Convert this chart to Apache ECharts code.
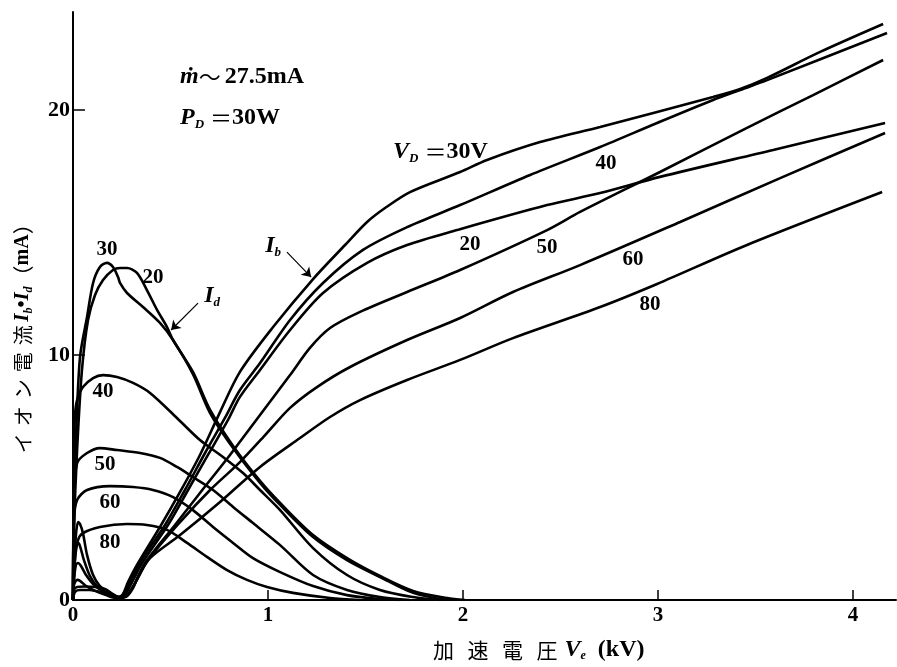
<!DOCTYPE html>
<html><head><meta charset="utf-8">
<script src="https://cdn.jsdelivr.net/npm/echarts@6/dist/echarts.min.js"></script>
<style>html,body{margin:0;padding:0;background:#fff}#c{width:897px;height:667px}</style>
</head><body><div id="c"></div>
<script>
// ---------- data (x: kV, y: mA) ----------
const vdLevels = ['20', '30', '40', '50', '60', '80'];
const xTickValues = [0, 1, 2, 3, 4];
const yTickValues = [0, 10, 20];

// beam current Ib
const ib30 = [[0,0],[0.005,0.41],[0.021,0.53],[0.062,0.55],[0.113,0.53],[0.164,0.45],[0.205,0.24],[0.231,0.12],[0.256,0.24],[0.282,0.73],[0.328,1.43],[0.446,2.98],[0.549,4.41],[0.651,5.92],[0.754,7.67],[0.856,9.31],[1.026,11.14],[1.231,13.10],[1.395,14.49],[1.508,15.43],[1.600,16.00],[1.728,16.65],[1.985,17.47],[2.123,17.96],[2.395,18.69],[2.703,19.31],[2.995,19.92],[3.282,20.53],[3.421,20.86],[3.559,21.31],[3.831,22.37],[4.154,23.51]];
const ib40 = [[0,0],[0.005,0.61],[0.021,0.82],[0.036,0.78],[0.067,0.57],[0.113,0.37],[0.169,0.20],[0.221,0.08],[0.251,0.16],[0.297,0.82],[0.344,1.55],[0.472,3.06],[0.574,4.49],[0.677,6.00],[0.779,7.43],[0.856,8.57],[0.959,9.67],[1.113,11.43],[1.282,12.94],[1.487,14.29],[1.713,15.22],[1.985,16.12],[2.344,17.35],[2.703,18.49],[2.995,19.47],[3.282,20.41],[3.421,20.82],[3.559,21.22],[4.174,23.14]];
const ib20 = [[0,0],[0.010,0.33],[0.036,0.41],[0.087,0.41],[0.138,0.33],[0.190,0.20],[0.236,0.08],[0.262,0.16],[0.303,0.73],[0.354,1.51],[0.487,3.06],[0.590,4.49],[0.692,5.92],[0.795,7.35],[0.856,8.29],[0.959,9.39],[1.113,11.02],[1.282,12.53],[1.508,13.76],[1.713,14.49],[1.969,15.10],[2.431,16.12],[2.703,16.61],[3.010,17.27],[3.590,18.37],[4.164,19.47]];
const ib50 = [[0,0],[0.005,0.82],[0.015,1.43],[0.026,1.51],[0.041,1.39],[0.067,1.02],[0.108,0.61],[0.159,0.33],[0.215,0.12],[0.251,0.08],[0.282,0.24],[0.318,0.69],[0.369,1.51],[0.523,3.06],[0.651,4.37],[0.805,5.92],[0.959,7.55],[1.113,9.18],[1.215,10.29],[1.318,11.10],[1.472,11.76],[1.713,12.57],[1.985,13.47],[2.431,15.10],[2.600,15.84],[3.010,17.47],[3.456,19.27],[3.795,20.61],[4.154,22.04]];
const ib60 = [[0,0],[0.005,1.02],[0.015,2.12],[0.026,2.33],[0.036,2.20],[0.056,1.63],[0.087,0.98],[0.128,0.53],[0.179,0.29],[0.231,0.12],[0.267,0.12],[0.297,0.41],[0.328,0.82],[0.385,1.63],[0.549,3.18],[0.703,4.49],[0.856,5.63],[0.985,6.73],[1.113,7.84],[1.251,8.69],[1.421,9.51],[1.713,10.61],[1.985,11.51],[2.256,12.57],[2.600,13.67],[3.113,15.43],[3.626,17.22],[4.164,19.06]];
const ib80 = [[0,0],[0.005,1.14],[0.015,2.65],[0.026,3.18],[0.036,3.10],[0.051,2.73],[0.072,1.84],[0.103,1.02],[0.138,0.57],[0.190,0.29],[0.241,0.12],[0.277,0.16],[0.308,0.49],[0.338,1.02],[0.395,1.71],[0.549,2.65],[0.754,4.00],[0.959,5.43],[1.164,6.61],[1.318,7.47],[1.472,8.16],[1.713,8.98],[1.985,9.80],[2.256,10.69],[2.703,11.96],[2.995,12.90],[3.456,14.49],[4.149,16.65]];

// discharge current Id
const id30 = [[0,0],[0.005,3.27],[0.015,6.53],[0.036,9.92],[0.072,11.55],[0.103,12.94],[0.138,13.59],[0.174,13.76],[0.205,13.59],[0.231,13.18],[0.241,12.94],[0.277,12.53],[0.359,11.96],[0.446,11.31],[0.513,10.61],[0.615,9.22],[0.703,7.63],[0.821,6.20],[0.959,4.78],[1.062,3.88],[1.231,2.57],[1.405,1.63],[1.574,0.94],[1.744,0.29],[1.918,0]];
const id20 = [[0,0],[0.005,2.86],[0.021,6.12],[0.046,9.39],[0.077,11.43],[0.113,12.45],[0.154,13.06],[0.205,13.47],[0.241,13.55],[0.277,13.55],[0.328,13.35],[0.379,12.65],[0.431,11.84],[0.482,11.14],[0.513,10.61],[0.615,9.31],[0.703,7.76],[0.821,6.29],[0.959,4.86],[1.062,3.96],[1.231,2.65],[1.405,1.71],[1.574,0.98],[1.744,0.37],[1.918,0.08],[2.010,0]];
const id40 = [[0,0],[0.003,4.08],[0.005,6.53],[0.010,7.55],[0.021,8.16],[0.051,8.69],[0.103,9.06],[0.154,9.18],[0.226,9.10],[0.308,8.86],[0.395,8.45],[0.533,7.43],[0.651,6.53],[0.769,5.84],[0.872,5.18],[0.959,4.49],[1.062,3.67],[1.231,2.12],[1.405,1.02],[1.574,0.41],[1.744,0.12],[1.882,0]];
const id50 = [[0,0],[0.005,4.08],[0.021,5.59],[0.072,6.00],[0.138,6.20],[0.226,6.12],[0.344,6.00],[0.446,5.80],[0.533,5.43],[0.615,5.02],[0.718,4.49],[0.821,3.80],[0.923,3.14],[1.062,2.24],[1.231,1.02],[1.405,0.41],[1.574,0.12],[1.728,0]];
const id60 = [[0,0],[0.005,3.27],[0.021,4.08],[0.072,4.49],[0.190,4.65],[0.308,4.61],[0.410,4.49],[0.513,4.20],[0.615,3.67],[0.718,2.98],[0.821,2.33],[0.923,1.71],[1.062,1.14],[1.231,0.57],[1.405,0.20],[1.574,0.04],[1.677,0]];
const id80 = [[0,0],[0.010,1.63],[0.026,2.45],[0.051,2.73],[0.138,2.98],[0.277,3.10],[0.379,3.06],[0.482,2.86],[0.585,2.33],[0.687,1.76],[0.790,1.22],[0.892,0.82],[0.995,0.53],[1.128,0.29],[1.318,0.08],[1.472,0]];

// ---------- annotation placement (data coords) ----------
const curveNumLabels = [
  ['30', 0.174, 14.29], ['20', 0.410, 13.18], ['40', 0.154, 8.49], ['50', 0.164, 5.51],
  ['60', 0.190, 3.96], ['80', 0.190, 2.33],
  ['40', 2.733, 17.80], ['20', 2.036, 14.49], ['50', 2.431, 14.37], ['60', 2.872, 13.88], ['80', 2.959, 12.04]
];
const richNotes = [
  {text: '{i|ṁ}{t|～}{n|27.5mA}', at: [0.549, 21.35], align: 'left'},
  {text: '{i|P}{s|D}{n| }{eq|＝}{n|30W}', at: [0.549, 19.67], align: 'left'},
  {text: '{i|V}{s|D}{n| }{eq|＝}{n|30V}', at: [1.641, 18.29], align: 'left'},
  {text: '{i|I}{s|d}', at: [0.713, 12.41], align: 'center'},
  {text: '{i|I}{s|b}', at: [1.026, 14.45], align: 'center'}
];
const arrows = [
  [[0.641, 12.12], [0.503, 11.02]],
  [[1.097, 14.20], [1.221, 13.18]]
];

// ---------- chart ----------
const SERIF = '"Liberation Serif", "DejaVu Serif", serif';
const CJK = '"Noto Sans CJK JP", sans-serif';
const chart = echarts.init(document.getElementById('c'), null, {renderer: 'canvas'});

const ibSets = {'20': ib20, '30': ib30, '40': ib40, '50': ib50, '60': ib60, '80': ib80};
const idSets = {'20': id20, '30': id30, '40': id40, '50': id50, '60': id60, '80': id80};
const series = [];
vdLevels.forEach(v => {
  series.push({name: 'Ib ' + v, type: 'line', data: ibSets[v]});
  series.push({name: 'Id ' + v, type: 'line', data: idSets[v]});
});
series.forEach(s => Object.assign(s, {
  showSymbol: false, symbol: 'none', smooth: 0.3, silent: true,
  lineStyle: {color: '#000', width: 2.6}, animation: false
}));
series[0].markLine = {
  silent: true, symbol: ['none', 'arrow'], symbolSize: 9, animation: false,
  label: {show: false},
  lineStyle: {color: '#000', width: 1.2, type: 'solid'},
  data: arrows.map(a => [{coord: a[0]}, {coord: a[1]}])
};

const axisFont = {color: '#000', fontFamily: SERIF, fontWeight: 'bold', fontSize: 21};
chart.setOption({
  animation: false,
  backgroundColor: '#fff',
  grid: {left: 73, right: 1, top: 12, bottom: 67, containLabel: false, outerBoundsMode: 'none'},
  xAxis: {
    type: 'value', min: 0, max: 4.22, interval: 1,
    axisLine: {lineStyle: {color: '#000', width: 2}},
    axisTick: {inside: true, length: 10, lineStyle: {color: '#000', width: 1.5}, customValues: [1, 2, 3, 4]},
    axisLabel: Object.assign({margin: 5, customValues: xTickValues}, axisFont),
    splitLine: {show: false}
  },
  yAxis: {
    type: 'value', min: 0, max: 24, interval: 10,
    axisLine: {show: true, lineStyle: {color: '#000', width: 2}},
    axisTick: {show: true, inside: true, length: 12, lineStyle: {color: '#000', width: 1.5}, customValues: [10, 20]},
    axisLabel: Object.assign({margin: 3, customValues: yTickValues}, axisFont, {fontSize: 22}),
    splitLine: {show: false}
  },
  series: series
});

// rich styles: subscripts are shifted down by top padding (middle alignment)
const RICH = {
  n: {fontFamily: SERIF, fontWeight: 'bold', fontSize: 24, fill: '#000', lineHeight: 26},
  i: {fontFamily: SERIF, fontWeight: 'bold', fontStyle: 'italic', fontSize: 24, fill: '#000', lineHeight: 26},
  s: {fontFamily: SERIF, fontWeight: 'bold', fontStyle: 'italic', fontSize: 13, fill: '#000', lineHeight: 26, padding: [13, 0, 0, 0]},
  t: {fontFamily: CJK, fontSize: 22, fill: '#000', lineHeight: 26, width: 26},
  eq: {fontFamily: CJK, fontSize: 22, fill: '#000', lineHeight: 26}
};

const graphics = [];
curveNumLabels.forEach(([t, x, y]) => {
  const p = chart.convertToPixel({gridIndex: 0}, [x, y]);
  graphics.push({type: 'text', x: p[0], y: p[1], silent: true, z: 100,
    style: {text: t, fill: '#000', fontFamily: SERIF, fontWeight: 'bold', fontSize: 21, align: 'center', verticalAlign: 'middle'}});
});
richNotes.forEach(r => {
  const p = chart.convertToPixel({gridIndex: 0}, r.at);
  graphics.push({type: 'text', x: p[0], y: p[1], silent: true, z: 100,
    style: {text: r.text, rich: RICH, fill: '#000', fontFamily: SERIF, fontSize: 23, align: r.align, verticalAlign: 'middle'}});
});

// axis titles
const XR = {
  c: {fontFamily: CJK, fontSize: 21, fill: '#000', width: 34.5, lineHeight: 26},
  c4: {fontFamily: CJK, fontSize: 21, fill: '#000', width: 28, lineHeight: 26},
  i: RICH.i,
  s: Object.assign({}, RICH.s, {fontSize: 12, padding: [12, 0, 0, 0]}),
  n: Object.assign({}, RICH.n, {fontSize: 24})
};
graphics.push({type: 'text', x: 433, y: 650, silent: true,
  style: {text: '{c|加}{c|速}{c|電}{c4|圧}{i|V}{s|e}{n|  (kV)}', rich: XR, fill: '#000', align: 'left', verticalAlign: 'middle'}});
const YR = {
  k: {fontFamily: CJK, fontSize: 20, fill: '#000', width: 27, lineHeight: 26},
  i: Object.assign({}, RICH.i, {fontSize: 21}),
  s: Object.assign({}, RICH.s, {fontSize: 12, padding: [11, 0, 0, 0]}),
  n: Object.assign({}, RICH.n, {fontSize: 20}),
  p: {fontFamily: CJK, fontSize: 21, fill: '#000', lineHeight: 26}
};
graphics.push({type: 'text', x: 23, y: 335, rotation: Math.PI / 2, silent: true,
  style: {text: '{k|イ}{k|オ}{k|ン}{k|電}{k|流}{i|I}{s|b}{n|•}{i|I}{s|d}{p|（}{n|mA}{p|）}', rich: YR, fill: '#000', align: 'center', verticalAlign: 'middle'}});

chart.setOption({graphic: graphics});
</script>
</body></html>
